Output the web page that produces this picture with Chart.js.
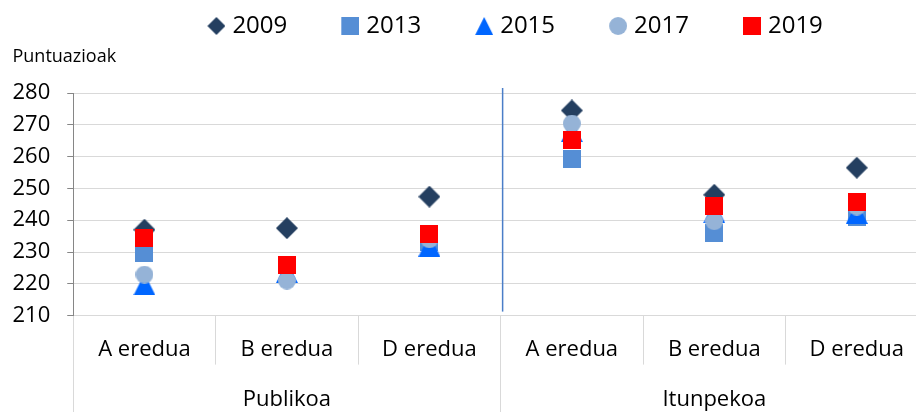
<!DOCTYPE html>
<html>
<head>
<meta charset="utf-8">
<script src="https://cdn.jsdelivr.net/npm/chart.js@4.4.1/dist/chart.umd.min.js"></script>
<style>
  html, body { margin: 0; padding: 0; background: #fff; overflow: hidden; }
  .chart-wrap { position: relative; width: 940px; height: 412px; }
</style>
</head>
<body>
<div class="chart-wrap"><canvas id="scoresChart"></canvas></div>
<script>
// ── Data ──
const models  = ['A eredua', 'B eredua', 'D eredua', 'A eredua', 'B eredua', 'D eredua'];
const sectors = ['Publikoa', 'Itunpekoa'];
const years   = ['2009', '2013', '2015', '2017', '2019'];
const yTicks  = [210, 220, 230, 240, 250, 260, 270, 280];

const scores2009 = [237.0, 237.5, 247.4, 274.5, 248.0, 256.5];
const scores2013 = [229.6, 226.0, 233.0, 259.4, 236.0, 241.0];
const scores2015 = [219.8, 223.7, 232.0, 268.0, 242.5, 242.3];
const scores2017 = [222.9, 221.0, 234.0, 270.4, 239.7, 244.3];
const scores2019 = [234.4, 226.0, 235.6, 265.1, 244.5, 245.8];

const FONT = "'Open Sans', sans-serif";

// ── Excel-like marker images ──
function makeMarker(shape, color, w, h, canvasW) {
  const c = document.createElement('canvas');
  c.width  = canvasW || w;
  c.height = h;
  const g  = c.getContext('2d');
  const x0 = c.width - w; // marker sits at the right end of the image
  g.fillStyle = color;
  g.beginPath();
  if (shape === 'diamond') {
    g.moveTo(x0 + w / 2, 0); g.lineTo(x0 + w, h / 2);
    g.lineTo(x0 + w / 2, h); g.lineTo(x0, h / 2);
  } else if (shape === 'triangle') {
    g.moveTo(x0 + w / 2, 0); g.lineTo(x0 + w, h); g.lineTo(x0, h);
  } else if (shape === 'circle') {
    g.arc(x0 + w / 2, h / 2, w / 2, 0, Math.PI * 2);
  } else {
    g.rect(x0, 0, w, h);
  }
  g.closePath();
  g.fill();
  return c;
}

const series = [
  { label: years[0], data: scores2009, shape: 'diamond',  color: '#243f60', size: 22 },
  { label: years[1], data: scores2013, shape: 'square',   color: '#558ed5', size: 18 },
  { label: years[2], data: scores2015, shape: 'triangle', color: '#0066ff', size: 22 },
  { label: years[3], data: scores2017, shape: 'circle',   color: '#95b3d7', size: 18 },
  { label: years[4], data: scores2019, shape: 'square',   color: '#ff0000', size: 18 },
];

const LEGEND_BOX = 42;
const legendMarkers = series.map(s => makeMarker(s.shape, s.color, 18, 18, LEGEND_BOX + 10));

// ── Divider between Publikoa and Itunpekoa ──
const dividerLine = {
  id: 'dividerLine',
  beforeDatasetsDraw(chart) {
    const { ctx, chartArea, scales: { x } } = chart;
    const split = models.length / sectors.length;
    const px = (x.getPixelForTick(split - 1) + x.getPixelForTick(split)) / 2 + 2;
    ctx.save();
    ctx.strokeStyle = '#4a7ec8';
    ctx.lineWidth = 1.5;
    ctx.beginPath();
    ctx.moveTo(px, chartArea.top - 5);
    ctx.lineTo(px, chartArea.bottom - 4);
    ctx.stroke();
    ctx.restore();
  }
};

// drop the second (outer) tick padding chart.js adds to the axis size
const trimPadding = axis => {
  if (axis.isHorizontal()) axis.height -= axis.options.ticks.padding;
  else axis.width -= axis.options.ticks.padding;
};

new Chart(document.getElementById('scoresChart'), {
  type: 'line',
  data: {
    labels: models,
    datasets: series.map((s, i) => ({
      label: s.label,
      data: s.data,
      showLine: false,
      pointStyle: makeMarker(s.shape, s.color, s.size, s.size),
      pointRadius: 9,
      pointHoverRadius: 9,
      borderWidth: 0,
      backgroundColor: s.color,
      borderColor: s.color,
      order: series.length - i,   // 2019 on top, as in Excel
    })),
  },
  options: {
    responsive: true,
    maintainAspectRatio: false,
    animation: false,
    layout: { padding: { top: -11, left: 12.5, right: 12, bottom: 1 } },
    plugins: {
      tooltip: { enabled: false },
      legend: {
        position: 'top',
        fullSize: false,
        labels: {
          usePointStyle: true,
          pointStyleWidth: LEGEND_BOX,
          padding: 25,
          color: '#000',
          font: { family: FONT, size: 24 },
          sort: (a, b) => a.datasetIndex - b.datasetIndex,
          generateLabels(chart) {
            const items = Chart.defaults.plugins.legend.labels.generateLabels(chart);
            return items.map(item => ({ ...item, pointStyle: legendMarkers[item.datasetIndex] }));
          },
        },
      },
      title: {
        display: true,
        text: 'Puntuazioak',
        align: 'start',
        position: 'top',
        weight: 500,
        color: '#000',
        font: { family: FONT, size: 18, weight: 'normal', lineHeight: 1 },
        padding: { top: 0, bottom: 27 },
      },
    },
    scales: {
      x: {
        type: 'category',
        position: 'bottom',
        offset: true,
        grid: {
          offset: true,
          drawOnChartArea: false,
          color: '#d9d9d9',
          tickColor: '#d9d9d9',
          tickLength: 49,
        },
        border: { color: '#d9d9d9' },
        ticks: {
          autoSkip: false,
          maxRotation: 0,
          padding: -28,
          color: '#000',
          font: { family: FONT, size: 22, lineHeight: 1.2 },
        },
        afterFit: trimPadding,
      },
      x2: {
        type: 'category',
        position: 'bottom',
        labels: sectors,
        offset: true,
        grid: {
          offset: true,
          drawOnChartArea: false,
          color: '#d9d9d9',
          tickColor: '#d9d9d9',
          tickLength: 49,
        },
        border: { display: false },
        ticks: {
          maxRotation: 0,
          padding: -23,
          color: '#000',
          font: { family: FONT, size: 22, lineHeight: 1 },
        },
        afterFit: trimPadding,
      },
      y: {
        min: yTicks[0],
        max: yTicks[yTicks.length - 1],
        afterBuildTicks: axis => { axis.ticks = yTicks.map(v => ({ value: v })); },
        grid: {
          color: '#d9d9d9',
          tickColor: '#868686',
          tickLength: 6,
        },
        border: { color: '#868686' },
        ticks: {
          padding: 17,
          color: '#000',
          font: { family: FONT, size: 22 },
        },
        afterFit: trimPadding,
      },
    },
  },
  plugins: [dividerLine],
});
</script>
</body>
</html>
